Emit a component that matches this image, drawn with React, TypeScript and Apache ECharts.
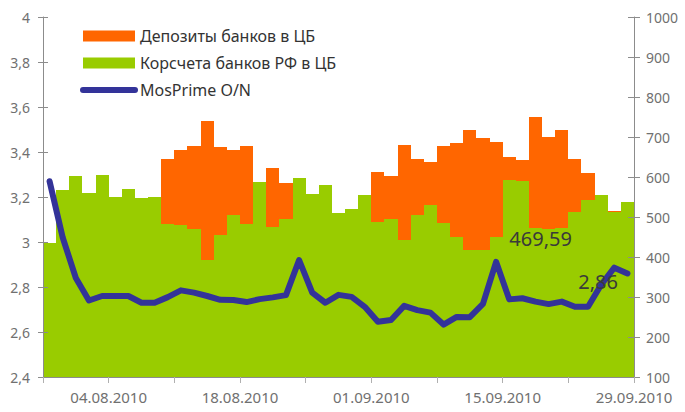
import React, { useEffect, useRef } from "react";
import * as echarts from "echarts";

const dates: string[] = [
  "29.07.2010", "30.07.2010", "02.08.2010", "03.08.2010", "04.08.2010",
  "05.08.2010", "06.08.2010", "09.08.2010", "10.08.2010", "11.08.2010",
  "12.08.2010", "13.08.2010", "16.08.2010", "17.08.2010", "18.08.2010",
  "19.08.2010", "20.08.2010", "23.08.2010", "24.08.2010", "25.08.2010",
  "26.08.2010", "27.08.2010", "30.08.2010", "31.08.2010", "01.09.2010",
  "02.09.2010", "03.09.2010", "06.09.2010", "07.09.2010", "08.09.2010",
  "09.09.2010", "10.09.2010", "13.09.2010", "14.09.2010", "15.09.2010",
  "16.09.2010", "17.09.2010", "20.09.2010", "21.09.2010", "22.09.2010",
  "23.09.2010", "24.09.2010", "27.09.2010", "28.09.2010", "29.09.2010",
];

const xTickLabels: string[] = ["04.08.2010", "18.08.2010", "01.09.2010", "15.09.2010", "29.09.2010"];

const korscheta: number[] = [
  435, 567, 602, 561, 605, 551, 570, 548, 550, 483,
  480, 471, 393, 456, 505, 483, 588, 476, 496, 597,
  558, 580, 510, 520, 555, 488, 495, 443, 505, 530,
  485, 450, 418, 418, 450, 592, 590, 472, 469.59, 472,
  513, 542, 555, 512, 537,
];

const deposits: number[] = [
  0, 0, 0, 0, 0, 0, 0, 0, 0, 162,
  188, 207, 347, 219, 163, 194, 0, 147, 89, 0,
  0, 0, 0, 0, 0, 124, 108, 237, 140, 108,
  193, 235, 299, 279, 237, 57, 53, 278, 231, 245,
  132, 67, 0, 4, 0,
];

const mosprime: number[] = [
  3.27, 3.02, 2.84, 2.74, 2.76, 2.76, 2.76, 2.73, 2.73, 2.755,
  2.785, 2.775, 2.76, 2.743, 2.742, 2.733, 2.746, 2.754, 2.764, 2.92,
  2.775, 2.73, 2.765, 2.756, 2.712, 2.646, 2.653, 2.716, 2.697, 2.686,
  2.633, 2.667, 2.666, 2.725, 2.912, 2.745, 2.75, 2.735, 2.724, 2.735,
  2.712, 2.712, 2.81, 2.886, 2.86,
];

const labelledGreenIndex = 38;
const labelledLineIndex = 44;

const SERIES_NAMES = ["Депозиты банков в ЦБ", "Корсчета банков РФ в ЦБ", "MosPrime O/N"];

const FONT = "'Noto Sans', 'DejaVu Sans', sans-serif";
const AXIS_COLOR = "#8c8c8c";
const LABEL_COLOR = "#707070";
const VALUE_LABEL_COLOR = "#3a3a3a";
const GREEN = "#99CC00";
const ORANGE = "#FF6600";
const BLUE = "#333399";

const fmtComma = (v: number) => String(Math.round(v * 100) / 100).replace(".", ",");

export default function App() {
  const ref = useRef<HTMLDivElement>(null);

  useEffect(() => {
    if (!ref.current) return;
    const chart = echarts.init(ref.current, undefined, { renderer: "svg" });

    const tickLabelAt: Record<number, string> = {};
    xTickLabels.forEach((lbl) => {
      const idx = dates.indexOf(lbl);
      if (idx >= 0) tickLabelAt[idx + 1] = lbl;
    });

    const leftAxisBase = {
      type: "value",
      position: "left",
      min: 2.4,
      max: 4,
      interval: 0.2,
      splitLine: { show: false },
      z: 10,
    };
    const rightAxisBase = {
      type: "value",
      position: "right",
      min: 100,
      max: 1000,
      interval: 100,
      splitLine: { show: false },
      z: 10,
    };

    // stacked columns: [index, base, top, value]
    const greenRows = korscheta.map((v, i) => [i, 0, v, v]);
    const orangeRows = deposits
      .map((v, i) => [i, korscheta[i], korscheta[i] + v, v])
      .filter((r) => r[3] > 0);

    const renderColumn = (labelIndex: number | null) => (params: any, api: any) => {
      const i = api.value(0);
      const base = api.value(1);
      const top = api.value(2);
      const pTop = api.coord([i, top]);
      const pBase = api.coord([i, base]);
      const bw = api.size([1, 0])[0];
      const x0 = Math.round(pTop[0] - bw / 2);
      const x1 = Math.round(pTop[0] + bw / 2);
      const y0 = Math.round(pTop[1]);
      const y1 = Math.round(pBase[1]);
      const rect = {
        type: "rect",
        shape: { x: x0, y: y0, width: x1 - x0, height: Math.max(y1 - y0, 1) },
        style: api.style(),
      };
      if (labelIndex !== null && i === labelIndex) {
        return {
          type: "group",
          children: [
            rect,
            {
              type: "text",
              z2: 100,
              style: {
                text: fmtComma(api.value(3)),
                x: pTop[0] - 8,
                y: pTop[1] - 1,
                align: "center",
                verticalAlign: "top",
                fontSize: 20,
                fontFamily: FONT,
                fill: VALUE_LABEL_COLOR,
              },
            },
          ],
        };
      }
      return rect;
    };

    const lineData = mosprime.map((v, i) =>
      i === labelledLineIndex
        ? {
            value: v,
            label: {
              show: true,
              position: "left",
              distance: 9,
              offset: [0, 8],
              formatter: (p: any) => fmtComma(p.value),
              fontSize: 20,
              fontFamily: FONT,
              color: VALUE_LABEL_COLOR,
            },
          }
        : v
    );

    chart.setOption({
      animation: false,
      textStyle: { fontFamily: FONT },
      grid: { left: 43, right: 51, top: 17, bottom: 35, containLabel: false },
      legend: {
        orient: "vertical",
        left: 80,
        top: 28,
        padding: 0,
        itemWidth: 52,
        itemHeight: 11,
        itemGap: 11,
        textStyle: { fontSize: 16, color: "#333", fontFamily: FONT },
        data: [
          { name: SERIES_NAMES[0], icon: "rect", itemStyle: { color: ORANGE } },
          { name: SERIES_NAMES[1], icon: "rect", itemStyle: { color: GREEN } },
          {
            name: SERIES_NAMES[2],
            itemStyle: { opacity: 0 },
            lineStyle: { width: 6, cap: "round", color: BLUE },
          },
        ],
      },
      xAxis: [
        {
          type: "category",
          data: dates,
          boundaryGap: true,
          show: false,
        },
        {
          type: "value",
          position: "bottom",
          min: 0,
          max: dates.length,
          interval: 5,
          z: 10,
          splitLine: { show: false },
          axisLine: { show: true, lineStyle: { color: AXIS_COLOR, width: 1 } },
          axisTick: { show: true, length: 6, lineStyle: { color: "#b0b0b0" } },
          axisLabel: {
            show: true,
            margin: 12,
            fontSize: 15,
            color: LABEL_COLOR,
            fontFamily: FONT,
            showMinLabel: true,
            showMaxLabel: true,
            formatter: (v: number) => tickLabelAt[Math.round(v)] || "",
          },
        },
      ],
      yAxis: [
        {
          ...leftAxisBase,
          axisLine: { show: true, lineStyle: { color: AXIS_COLOR } },
          axisTick: { show: true, inside: false, length: 5, lineStyle: { color: AXIS_COLOR } },
          axisLabel: {
            margin: 13,
            fontSize: 14,
            color: LABEL_COLOR,
            fontFamily: FONT,
            formatter: (v: number) => fmtComma(v),
          },
        },
        {
          ...rightAxisBase,
          axisLine: { show: true, lineStyle: { color: AXIS_COLOR } },
          axisTick: { show: true, inside: false, length: 6, lineStyle: { color: AXIS_COLOR } },
          axisLabel: {
            margin: 12,
            fontSize: 14,
            color: LABEL_COLOR,
            fontFamily: FONT,
            formatter: (v: number) => String(v),
          },
        },
        {
          ...leftAxisBase,
          offset: 0,
          axisLine: { show: false },
          axisTick: { show: true, inside: true, length: 5, lineStyle: { color: AXIS_COLOR } },
          axisLabel: { show: false },
        },
        {
          ...rightAxisBase,
          offset: 0,
          axisLine: { show: false },
          axisTick: { show: true, inside: true, length: 6, lineStyle: { color: AXIS_COLOR } },
          axisLabel: { show: false },
        },
      ],
      series: [
        {
          name: SERIES_NAMES[1],
          type: "custom",
          xAxisIndex: 0,
          yAxisIndex: 1,
          clip: true,
          itemStyle: { color: GREEN },
          encode: { x: 0, y: 2 },
          renderItem: renderColumn(labelledGreenIndex),
          data: greenRows,
          z: 2,
        },
        {
          name: SERIES_NAMES[0],
          type: "custom",
          xAxisIndex: 0,
          yAxisIndex: 1,
          clip: true,
          itemStyle: { color: ORANGE },
          encode: { x: 0, y: 2 },
          renderItem: renderColumn(null),
          data: orangeRows,
          z: 1,
        },
        {
          name: SERIES_NAMES[2],
          type: "line",
          xAxisIndex: 0,
          yAxisIndex: 0,
          symbol: "circle",
          symbolSize: 1,
          showSymbol: true,
          lineStyle: { color: BLUE, width: 6, cap: "round", join: "round" },
          itemStyle: { color: BLUE },
          data: lineData,
          z: 5,
        },
      ],
    });

    return () => chart.dispose();
  }, []);

  return (
    <div
      ref={ref}
      style={{ position: "fixed", left: 0, top: 0, width: 685, height: 412, background: "#fff" }}
    />
  );
}
